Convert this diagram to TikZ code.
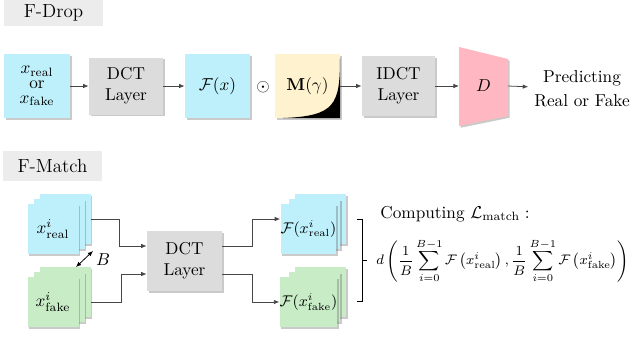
\documentclass[tikz,border=0pt]{standalone}
\usepackage{amsmath}
\usetikzlibrary{arrows.meta,shadows,calc}
\definecolor{cyanf}{RGB}{190,240,251}
\definecolor{greenf}{RGB}{200,236,198}
\definecolor{boxgray}{RGB}{220,220,220}
\definecolor{lblgray}{RGB}{236,236,236}
\definecolor{creamf}{RGB}{255,242,206}
\definecolor{pinkf}{RGB}{255,184,194}
\definecolor{linec}{RGB}{70,70,70}
\newcommand\pxu{0.58pt}
\begin{document}
\begin{tikzpicture}[x=0.58pt,y=-0.58pt,
  shad/.style={drop shadow={shadow xshift=1pt,shadow yshift=-1pt,opacity=0.35,fill=black!60}},
  lblbox/.style={fill=lblgray,inner sep=0pt,font=\fontsize{11}{13}\selectfont},
  gbox/.style={fill=boxgray,shad,inner sep=0pt,align=center},
  cbox/.style={fill=cyanf,shad,inner sep=0pt,align=center},
  gnbox/.style={fill=greenf,shad,inner sep=0pt,align=center},
  sq/.style={minimum width=51*\pxu,minimum height=50*\pxu},
  conn/.style={draw=linec,line width=0.45pt,-{Latex[length=3.2pt,width=2.6pt]}},
  plain/.style={draw=linec,line width=0.45pt}]
\useasboundingbox (0,0) rectangle (633,337);

% ---------- F-Drop ----------
\node[lblbox,minimum width=99*\pxu,minimum height=26*\pxu] (l1) at (53.5,13) {F-Drop};

\node[cbox,minimum width=66*\pxu,minimum height=64*\pxu] (xin) at (37,86)
  {$x_{\text{real}}$\\[-3.5pt]or\\[-3.5pt]$x_{\text{fake}}$};
\node[gbox,minimum width=74*\pxu,minimum height=57*\pxu] (dct1) at (126,86) {DCT\\Layer};
\node[cbox,minimum width=65*\pxu,minimum height=64*\pxu] (Fx) at (217.5,86) {$\mathcal{F}(x)$};
\node (odot) at (263,87) {$\odot$};
\node[fill=creamf,shad,inner sep=0pt,minimum width=65*\pxu,minimum height=64*\pxu] (M) at (307.5,86) {};
\fill[black] (283,118) .. controls (335,116) and (340,105) .. (340,58) -- (340,118) -- cycle;
\node at (M) (Mtxt) {$\mathbf{M}(\gamma)$};
\node[gbox,minimum width=73*\pxu,minimum height=60*\pxu] (idct) at (398.5,86) {IDCT\\Layer};
\fill[pinkf,shad] (459,47) -- (508,59) -- (508,116) -- (459,126) -- cycle;
\coordinate (Dl) at (459,86);
\coordinate (Dr) at (508,86);
\node (D) at (483.5,86) {$D$};
\node[align=center] (pred) at (582,89) {Predicting\\[2pt]Real or Fake};

\draw[conn] (xin) -- (dct1);
\draw[conn] (dct1) -- (Fx);
\draw[conn] (M) -- (idct);
\draw[conn] (idct) -- (Dl);
\draw[conn] (Dr) -- (pred);

% ---------- F-Match ----------
\node[lblbox,minimum width=99*\pxu,minimum height=30*\pxu] (l2) at (52.5,166) {F-Match};

\node[cbox,sq] (xr3) at (65,219) {};
\node[cbox,sq] (xr2) at (59,224) {};
\node[cbox,sq] (xr1) at (53,229) {$x^i_{\text{real}}$};
\node[gnbox,sq] (xf3) at (65,292) {};
\node[gnbox,sq] (xf2) at (59,297) {};
\node[gnbox,sq] (xf1) at (53,302) {$x^i_{\text{fake}}$};

\node[gbox,minimum width=75*\pxu,minimum height=60*\pxu] (dct2) at (184.5,261) {DCT\\Layer};

\node[cbox,sq] (Fr3) at (320.5,219) {};
\node[cbox,sq] (Fr2) at (314.5,224) {};
\node[cbox,sq,font=\small] (Fr1) at (308.5,229) {$\mathcal{F}(x^i_{\text{real}})$};
\node[gnbox,sq] (Ff3) at (320.5,292) {};
\node[gnbox,sq] (Ff2) at (314.5,297) {};
\node[gnbox,sq,font=\small] (Ff1) at (308.5,302) {$\mathcal{F}(x^i_{\text{fake}})$};

\draw[conn] (xr3.east) -- ++(29,0) |- ($(dct2.west)+(0,-15)$);
\draw[conn] (xf1.east -| xf3.east) -- ++(31,0) |- ($(dct2.west)+(0,13)$);
\draw[conn] ($(dct2.east)+(0,-15)$) -- ++(30,0) |- (Fr1.west |- Fr3.center);
\draw[conn] ($(dct2.east)+(0,13)$) -- ++(30,0) |- (Ff1.west);

\coordinate (ba) at (76,267);
\coordinate (bb) at (93,251);
\draw[draw=black,line width=0.45pt,{Latex[length=3pt,width=2.5pt]}-{Latex[length=3pt,width=2.5pt]}] (ba) -- (bb);
\node (Blab) at (103,260) {$B$};

\draw[line width=0.5pt] (357,219) -- (362,219) -- (362,301) -- (357,301) (362,260) -- (367,260);

\node[anchor=west,inner sep=0pt] (comp) at (380,214) {Computing $\mathcal{L}_{\text{match}}:$};
\node[anchor=west,inner sep=0pt,font=\footnotesize] (form) at (376,261)
  {$\displaystyle d\left(\frac{1}{B}\sum_{i=0}^{B-1}\mathcal{F}\left(x^i_{\text{real}}\right),\frac{1}{B}\sum_{i=0}^{B-1}\mathcal{F}\left(x^i_{\text{fake}}\right)\right)$};
\end{tikzpicture}
\end{document}
